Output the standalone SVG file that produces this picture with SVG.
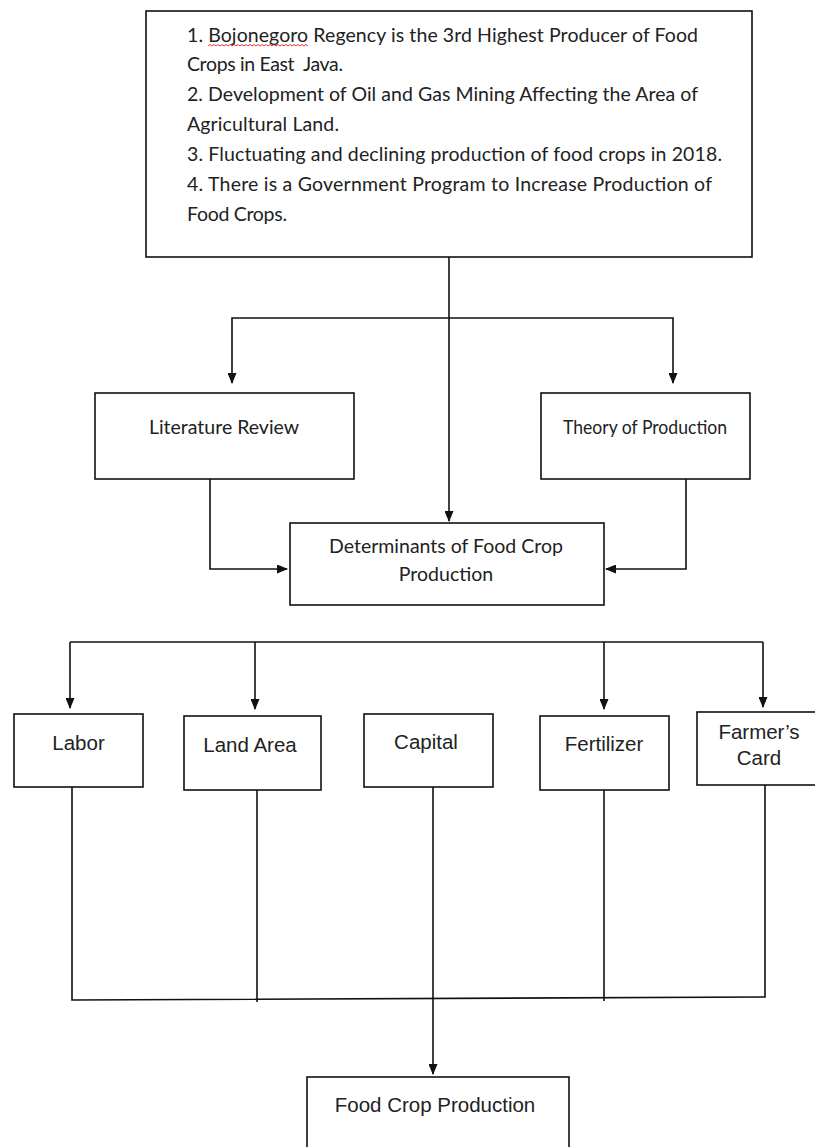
<svg xmlns="http://www.w3.org/2000/svg" width="815" height="1147" viewBox="0 0 815 1147">
<style>
.box{fill:#fff;stroke:#111;stroke-width:1.6}
.c{fill:none;stroke:#111;stroke-width:1.6}
.cal{font-family:Lato,"Open Sans","DejaVu Sans",sans-serif;font-size:19.5px;fill:#222}
.calm{font-family:Lato,"Open Sans","DejaVu Sans",sans-serif;font-size:19.5px;fill:#222;text-anchor:middle}
.ar{font-family:"Liberation Sans",Arial,sans-serif;font-size:20.5px;fill:#222;text-anchor:middle}
.sq{fill:none;stroke:#e02020;stroke-width:0.9}
</style>
<defs>
<marker id="ah" viewBox="0 0 11 9" refX="10" refY="4.5" markerWidth="11" markerHeight="9" markerUnits="userSpaceOnUse" orient="auto">
<path d="M0,0 L11,4.5 L0,9 z" fill="#111"/>
</marker>
</defs>
<rect width="815" height="1147" fill="#fff"/>

<g id="connectors">
<path class="c" d="M449,257 V521" marker-end="url(#ah)"/>
<path class="c" d="M449,318 H232 V383" marker-end="url(#ah)"/>
<path class="c" d="M449,318 H673 V383" marker-end="url(#ah)"/>
<path class="c" d="M210,479 V569 H287" marker-end="url(#ah)"/>
<path class="c" d="M686,479 V569 H606" marker-end="url(#ah)"/>
<path class="c" d="M70,642 H763"/>
<path class="c" d="M70,642 V708" marker-end="url(#ah)"/>
<path class="c" d="M255,642 V709" marker-end="url(#ah)"/>
<path class="c" d="M604,642 V709" marker-end="url(#ah)"/>
<path class="c" d="M763,642 V707" marker-end="url(#ah)"/>
<path class="c" d="M72,787 V1000 L765,997 V785"/>
<path class="c" d="M257,790 V1002"/>
<path class="c" d="M604,790 V1001"/>
<path class="c" d="M433,787 V1074" marker-end="url(#ah)"/>
</g>

<g id="problem">
<rect class="box" x="146" y="11" width="606" height="246"/>
<text class="cal" x="187" y="42" textLength="511">1. Bojonegoro Regency is the 3rd Highest Producer of Food</text>
<path class="sq" d="M208,46 l2,-1.5 2,1.5 2,-1.5 2,1.5 2,-1.5 2,1.5 2,-1.5 2,1.5 2,-1.5 2,1.5 2,-1.5 2,1.5 2,-1.5 2,1.5 2,-1.5 2,1.5 2,-1.5 2,1.5 2,-1.5 2,1.5 2,-1.5 2,1.5 2,-1.5 2,1.5 2,-1.5 2,1.5 2,-1.5 2,1.5 2,-1.5 2,1.5 2,-1.5 2,1.5 2,-1.5 2,1.5 2,-1.5 2,1.5 2,-1.5 2,1.5 2,-1.5 2,1.5 2,-1.5 2,1.5 2,-1.5 2,1.5 2,-1.5 2,1.5 2,-1.5 2,1.5 2,-1.5 2,1.5"/>
<text class="cal" x="187" y="71" textLength="156" xml:space="preserve">Crops in East  Java.</text>
<text class="cal" x="187" y="101" textLength="511">2. Development of Oil and Gas Mining Affecting the Area of</text>
<text class="cal" x="187" y="131" textLength="152">Agricultural Land.</text>
<text class="cal" x="187" y="161" textLength="535">3. Fluctuating and declining production of food crops in 2018.</text>
<text class="cal" x="187" y="191" textLength="525">4. There is a Government Program to Increase Production of</text>
<text class="cal" x="187" y="221" textLength="100">Food Crops.</text>
</g>

<g id="literature">
<rect class="box" x="95" y="393" width="259" height="86"/>
<text class="calm" x="224" y="434">Literature Review</text>
</g>

<g id="theory">
<rect class="box" x="541" y="393" width="209" height="86"/>
<text class="calm" x="645" y="434" textLength="164" lengthAdjust="spacingAndGlyphs">Theory of Production</text>
</g>

<g id="determinants">
<rect class="box" x="290" y="523" width="314" height="82"/>
<text class="calm" x="446" y="553">Determinants of Food Crop</text>
<text class="calm" x="446" y="581">Production</text>
</g>

<g id="labor">
<rect class="box" x="14" y="714" width="129" height="73"/>
<text class="ar" x="78.5" y="750">Labor</text>
</g>

<g id="land-area">
<rect class="box" x="184" y="716" width="137" height="74"/>
<text class="ar" x="250" y="752">Land Area</text>
</g>

<g id="capital">
<rect class="box" x="364" y="714" width="129" height="73"/>
<text class="ar" x="426" y="749">Capital</text>
</g>

<g id="fertilizer">
<rect class="box" x="540" y="716" width="129" height="74"/>
<text class="ar" x="604" y="751">Fertilizer</text>
</g>

<g id="farmers-card">
<rect class="box" x="697" y="712" width="125" height="73"/>
<text class="ar" x="759" y="739">Farmer’s</text>
<text class="ar" x="759" y="765">Card</text>
</g>

<g id="food-crop-production">
<rect class="box" x="307" y="1077" width="262" height="90"/>
<text class="ar" x="435" y="1112">Food Crop Production</text>
</g>
</svg>
